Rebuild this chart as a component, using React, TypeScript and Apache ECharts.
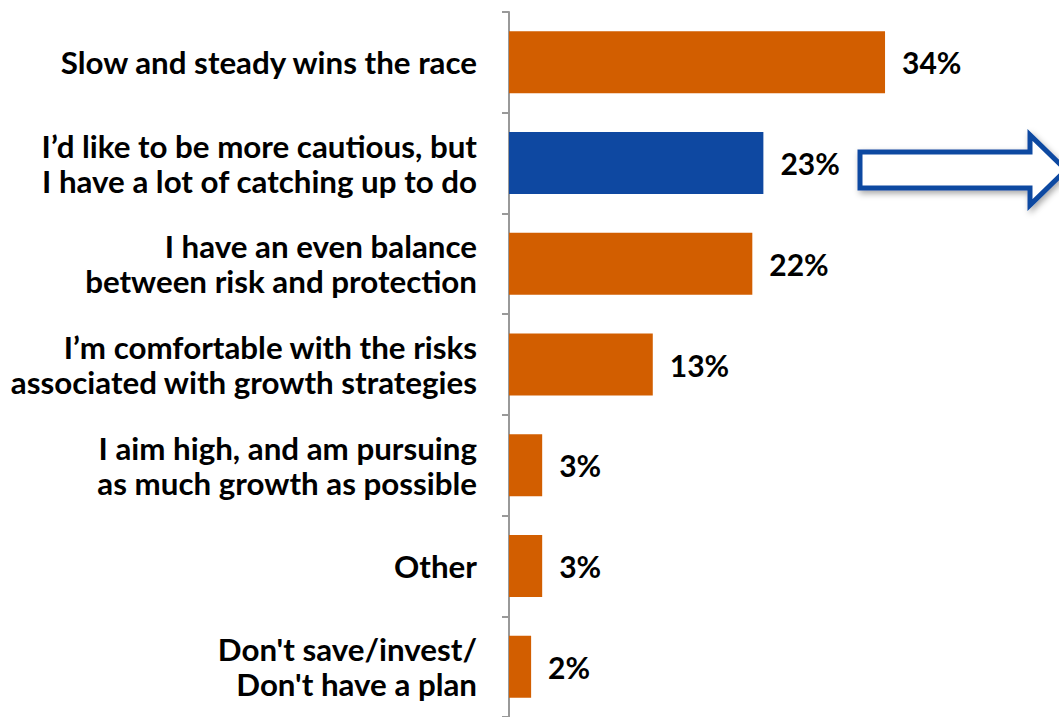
import React, { useEffect, useRef } from "react";
import * as echarts from "echarts";

const categories = [
  "Slow and steady wins the race",
  "I\u2019d like to be more cautious, but\nI have a lot of catching up to do",
  "I have an even balance\nbetween risk and protection",
  "I\u2019m comfortable with the risks\nassociated with growth strategies",
  "I aim high, and am pursuing\nas much growth as possible",
  "Other",
  "Don't save/invest/\nDon't have a plan",
];
const values = [34, 23, 22, 13, 3, 3, 2];
const highlightIndex = 1;

const ORANGE = "#D25E00";
const BLUE = "#0E48A1";
const FONT = "Lato, 'Open Sans', sans-serif";

export default function App() {
  const ref = useRef<HTMLDivElement>(null);
  useEffect(() => {
    if (!ref.current) return;
    const chart = echarts.init(ref.current, null, { renderer: "svg" });
    chart.setOption({
      animation: false,
      grid: { left: 509, top: 12, width: 442.4, height: 707, containLabel: false },
      xAxis: {
        type: "value",
        min: 0,
        max: 40,
        show: false,
      },
      yAxis: {
        type: "category",
        data: categories,
        inverse: true,
        axisLine: { show: true, lineStyle: { color: "#999999", width: 2 } },
        axisTick: { show: true, length: 7, lineStyle: { color: "#999999", width: 2 } },
        axisLabel: {
          margin: 32,
          color: "#000000",
          fontFamily: FONT,
          fontWeight: "bold",
          fontSize: 31.3,
          lineHeight: 35,
          align: "right",
        },
      },
      series: [
        {
          type: "bar",
          data: values.map((v, i) => ({
            value: v,
            itemStyle: { color: i === highlightIndex ? BLUE : ORANGE },
          })),
          barWidth: 62,
          label: {
            show: true,
            position: "right",
            distance: 17,
            formatter: "{c}%",
            color: "#000000",
            fontFamily: FONT,
            fontWeight: "bold",
            fontSize: 30,
          },
        },
      ],
      graphic: [
        {
          type: "polygon",
          shape: {
            points: [
              [860, 152],
              [1030, 152],
              [1030, 135],
              [1066, 170],
              [1030, 205],
              [1030, 188],
              [860, 188],
            ],
          },
          style: {
            fill: "#ffffff",
            stroke: BLUE,
            lineWidth: 5,
            shadowBlur: 6,
            shadowColor: "rgba(0,0,0,0.35)",
            shadowOffsetX: 2,
            shadowOffsetY: 3,
          },
        },
      ],
    });
    return () => chart.dispose();
  }, []);
  return (
    <div
      ref={ref}
      style={{ position: "absolute", left: 0, top: 0, width: 1059, height: 717, background: "#fff" }}
    />
  );
}
